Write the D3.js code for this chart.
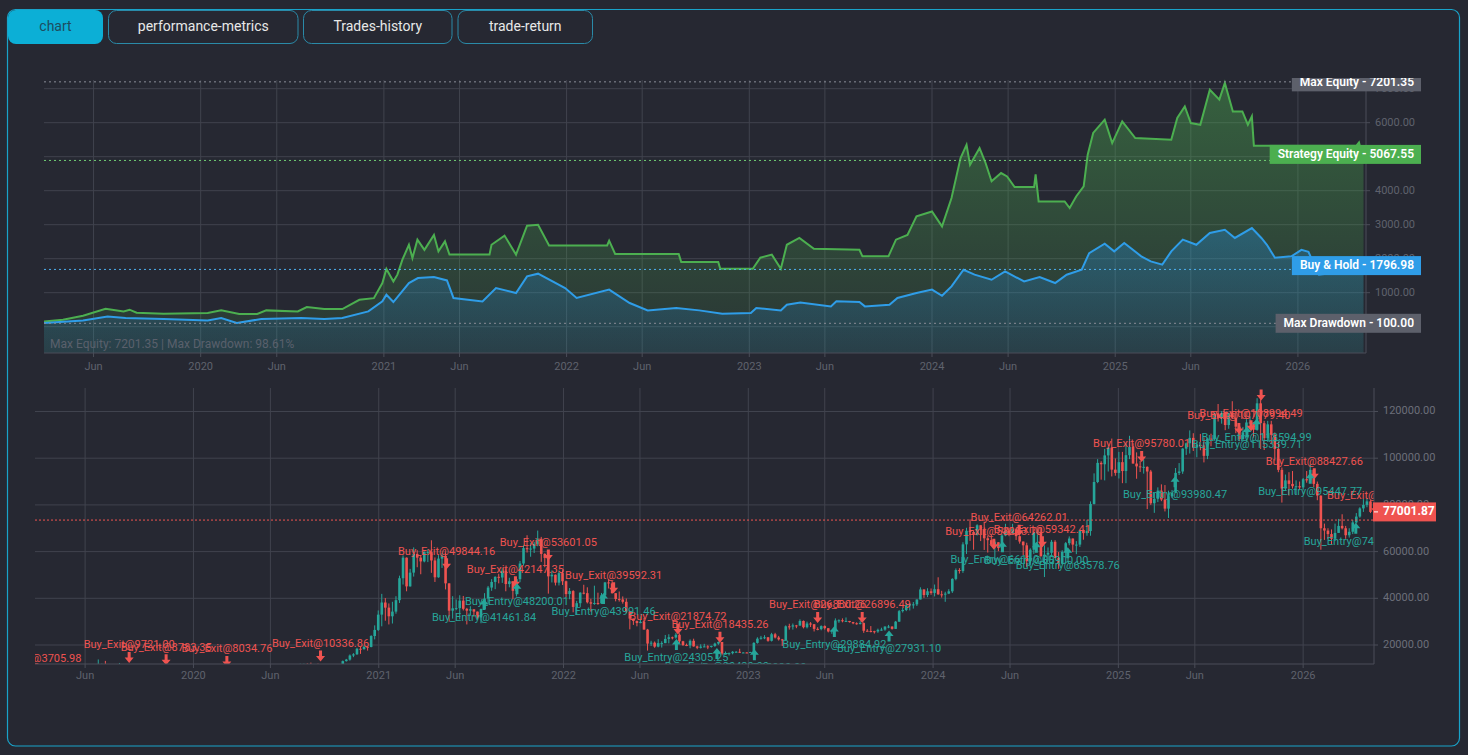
<!DOCTYPE html>
<html>
<head>
<meta charset="utf-8">
<script src="https://cdn.jsdelivr.net/npm/d3@7"></script>
<style>
  body { margin: 0; background: #262832; }
  svg { display: block; font-family: Roboto, "Noto Sans", sans-serif; }
</style>
</head>
<body>
<svg id="chart" width="1468" height="755"></svg>
<script>
// ---------------- data ----------------
const tabNames = ["chart", "performance-metrics", "Trades-history", "trade-return"];

// weekly BTC candles, prices in thousand USD; open = previous close
const firstOpen = 3.67;
const firstMonday = ["2019-02-18", "2020-01-06", "2021-01-04", "2022-01-03", "2023-01-02", "2024-01-01", "2025-01-06", "2026-01-05"];

const close2019 = [3.86,3.86,3.92,4.02,3.99,4.10,5.05,5.07,5.28,5.20,6.20,7.25,8.00,8.75,8.55,8.00,8.95,10.8,10.8,11.45,10.2,10.6,9.5,11.0,11.4,10.3,10.15,10.3,10.4,10.35,9.95,8.05,8.2,8.3,8.2,9.2,9.2,8.75,8.5,7.1,7.4,7.5,7.1,7.3,7.3,8.0];
const high2019  = [4.2,3.9,3.95,4.05,4.1,4.15,5.3,5.45,5.35,5.6,6.4,7.5,8.35,8.95,9.1,8.7,9.35,11.2,13.8,12.0,13.2,11.0,10.6,11.1,12.3,11.5,10.95,10.6,10.9,10.45,10.3,10.0,8.6,8.7,8.4,10.4,9.95,9.5,9.0,8.4,7.8,7.75,7.4,7.5,7.6,8.1];
const low2019   = [3.65,3.75,3.7,3.85,3.95,3.9,4.1,4.95,5.0,5.0,5.2,6.1,6.6,7.5,8.0,7.45,7.8,8.95,10.3,9.7,10.1,9.1,9.2,9.4,11.0,9.5,9.9,9.4,9.8,9.9,9.6,7.8,7.9,7.9,7.9,7.3,8.9,8.6,8.4,6.8,6.5,7.1,7.0,6.45,7.1,6.9];

const close2020 = [8.7,8.7,8.6,9.3,10.0,10.0,9.9,8.55,8.0,5.35,5.85,5.9,6.85,6.85,7.15,7.7,8.9,8.75,9.7,8.9,9.65,9.75,9.4,9.3,9.15,9.3,9.25,9.2,9.95,11.1,11.9,11.85,11.7,11.7,10.3,10.7,10.9,10.75,10.65,11.45,11.4,13.1,13.75,15.5,16.0,18.4,18.2,19.25,19.15,23.85,26.45,33.0];
const high2020  = [8.9,9.2,8.9,9.6,10.2,10.5,10.2,10.0,9.2,8.2,6.9,6.95,7.45,7.45,7.3,7.75,9.45,10.0,9.9,9.95,9.7,10.4,9.95,9.6,9.8,9.35,9.45,9.3,10.1,12.0,11.95,12.1,12.45,11.8,12.05,10.75,11.1,10.95,10.95,11.5,11.7,13.35,14.05,15.95,16.5,18.8,19.4,19.9,19.4,24.2,28.4,34.8];
const low2020   = [7.7,8.6,8.3,8.55,9.2,9.6,9.45,8.4,7.7,3.85,4.45,5.7,5.85,6.65,6.6,6.8,7.65,8.7,8.2,8.65,8.65,9.25,9.25,9.2,8.9,8.9,9.1,9.05,9.15,9.95,11.0,11.15,11.55,11.1,9.9,9.9,10.6,10.2,10.4,10.55,11.2,11.4,12.9,13.3,14.8,15.8,16.2,18.0,17.6,19.0,22.4,26.0];

const close2021 = [38.2,36.0,32.3,34.3,39.2,48.6,57.4,45.1,51.0,59.0,57.4,55.8,59.8,59.8,56.2,49.0,57.0,58.2,46.4,34.7,35.7,35.8,39.0,35.5,34.7,35.3,34.3,31.8,35.4,39.9,44.6,47.0,49.2,48.9,51.8,46.1,47.3,43.2,48.2,54.9,61.5,61.0,61.3,63.3,65.5,59.0,57.3,49.4,50.1,46.7,50.8,47.3];
const high2021  = [41.9,40.1,37.8,38.5,40.9,49.7,58.35,57.5,52.6,61.8,60.6,58.4,60.1,61.0,64.85,57.5,58.5,59.5,59.6,45.8,40.9,39.5,41.3,41.0,35.9,36.6,35.2,34.0,35.6,42.2,45.3,48.2,49.4,50.5,52.9,52.9,48.8,47.1,49.0,56.0,62.9,67.0,63.7,64.2,69.0,66.3,59.3,59.0,51.9,50.2,51.9,52.0];
const low2021   = [28.0,30.4,28.8,29.2,33.4,38.0,45.9,43.0,45.0,49.3,53.3,50.3,55.4,55.5,50.9,47.0,48.8,53.0,43.8,30.0,31.3,34.9,31.0,34.8,28.8,32.7,32.1,31.1,29.3,35.2,37.6,43.2,43.9,46.4,46.6,43.0,44.7,39.6,40.8,46.9,54.0,59.6,57.8,59.4,62.3,55.6,53.3,42.0,46.8,45.5,45.5,45.7];

const close2022 = [41.8,43.1,36.3,37.9,42.4,42.2,38.3,37.7,38.0,37.8,41.3,46.8,46.4,42.2,39.7,39.5,38.5,34.3,31.3,30.3,29.4,29.9,26.6,20.6,21.0,19.3,20.8,20.8,22.6,23.3,23.2,24.4,21.6,20.0,19.8,21.8,19.4,18.8,19.3,19.4,19.2,19.6,20.6,21.3,16.3,16.3,16.5,17.1,17.1,16.8,16.8,16.6];
const high2022  = [47.6,44.4,43.5,38.9,42.6,45.8,44.7,39.8,45.4,42.4,42.3,47.0,48.2,47.4,41.5,42.9,40.8,39.9,34.2,31.3,30.5,32.2,31.6,26.9,21.8,21.5,22.5,21.6,24.3,24.6,23.6,25.2,25.0,21.8,20.6,22.4,22.7,19.7,20.3,20.5,19.9,19.7,21.0,21.5,21.0,17.2,16.8,17.4,17.4,18.4,16.9,16.9];
const low2022   = [40.5,39.6,34.0,32.9,36.3,41.7,37.8,34.3,37.2,37.2,37.6,40.9,44.2,42.0,38.7,38.6,37.7,33.7,26.7,28.6,28.0,29.3,26.6,17.6,19.6,18.8,19.0,18.9,20.8,20.7,22.4,22.7,20.8,19.6,19.5,18.6,19.3,18.2,18.5,19.1,18.2,18.9,19.2,20.1,15.6,16.0,15.5,16.0,16.9,16.6,16.6,16.5];

const close2023 = [17.0,20.9,22.7,23.1,23.3,21.8,24.6,23.2,22.4,22.1,28.0,27.9,28.4,28.3,30.3,27.6,29.2,28.9,26.9,26.8,28.1,27.2,25.8,26.3,30.5,30.6,30.2,30.3,29.8,29.3,29.0,29.4,26.1,26.0,25.9,25.8,26.5,26.6,27.9,27.9,26.9,30.0,34.5,35.0,37.0,37.4,37.4,39.5,43.8,41.4,43.0,42.3];
const high2023  = [17.1,21.2,23.3,23.9,24.2,23.4,25.2,25.2,23.9,22.6,28.4,29.1,29.2,28.6,31.0,30.5,30.0,29.8,28.2,27.6,28.4,28.4,26.8,26.4,31.4,31.0,31.4,31.8,30.3,29.9,29.7,30.2,29.7,26.8,28.1,26.1,27.0,27.4,28.0,28.6,28.0,30.3,35.0,35.9,37.9,37.9,38.4,39.5,44.7,43.5,44.3,44.2];
const low2023   = [16.6,17.1,20.6,22.3,22.5,21.4,21.5,22.8,21.9,19.6,21.9,26.6,26.6,27.2,28.3,27.1,27.1,27.7,25.8,26.3,26.3,26.6,25.4,24.8,26.3,29.5,29.7,30.1,29.6,28.9,28.7,28.8,25.2,25.8,25.4,24.9,25.2,26.1,26.1,27.2,26.6,26.9,29.9,33.9,34.5,34.8,35.6,36.7,39.6,40.2,40.5,41.5];

const close2024 = [43.9,41.7,41.6,42.0,43.0,48.3,52.1,51.7,63.1,68.9,68.4,67.2,71.3,69.4,65.7,64.9,63.1,64.0,61.5,66.9,69.0,67.8,69.6,66.6,64.3,62.7,55.9,60.8,68.2,68.3,58.1,58.7,59.5,64.2,57.3,54.8,59.9,63.6,65.6,63.0,63.0,69.0,67.9,68.8,80.4,89.8,98.0,97.4,101.2,104.5,95.1,93.7,98.3];
const high2024  = [45.9,49.0,43.2,42.8,43.9,48.6,52.8,52.9,64.0,70.2,73.8,68.9,71.7,71.3,72.8,66.9,67.2,64.7,64.0,67.5,71.9,69.5,71.9,70.2,66.9,63.5,63.8,61.4,68.3,69.4,70.0,62.7,61.8,65.0,64.9,59.8,60.6,64.1,66.5,65.6,64.5,69.4,69.5,73.6,81.5,93.5,99.6,98.7,104.0,105.1,108.4,99.9,102.7];
const low2024   = [40.8,41.5,40.3,38.5,41.8,42.3,47.7,50.6,50.9,59.0,64.6,60.8,66.9,64.5,60.7,59.6,62.4,56.6,60.2,60.6,66.6,66.6,67.5,65.0,63.4,58.5,53.5,54.3,59.0,63.4,57.6,49.1,56.2,57.8,57.2,52.6,54.6,57.6,62.7,59.8,58.9,62.0,65.1,66.8,66.8,80.2,89.3,90.8,90.5,94.3,92.2,92.5,91.3];

const close2025 = [94.5,101.3,104.8,97.7,96.5,96.1,96.3,94.3,80.7,82.6,86.1,82.3,78.4,83.7,85.2,93.7,94.3,104.1,106.4,108.7,104.6,105.7,105.5,101.0,108.4,108.2,119.1,117.3,119.4,114.2,119.3,117.4,113.5,108.2,111.1,115.3,115.3,112.2,123.5,115.0,108.6,114.5,110.0,104.0,95.0,87.0,90.5,89.0,88.0,88.0,87.5,91.0];
const high2025  = [102.7,106.3,109.6,106.4,102.5,98.8,99.5,96.5,95.0,85.3,87.5,88.8,88.5,86.1,86.4,95.8,97.9,104.3,106.7,111.9,110.7,106.8,110.4,108.9,108.5,110.5,119.5,123.2,120.2,119.8,119.3,124.4,117.6,113.4,113.4,116.7,117.9,115.0,125.7,126.2,116.0,116.0,116.0,111.0,107.0,96.0,93.0,94.0,94.5,90.5,90.0,91.5];
const low2025   = [89.3,89.3,99.6,97.8,91.2,94.1,93.4,78.2,80.0,76.6,81.2,81.6,77.2,74.4,83.0,85.1,92.8,93.3,101.4,102.0,103.1,100.4,103.4,98.2,99.6,105.1,107.5,115.7,114.8,112.0,112.6,116.8,110.7,107.3,107.3,110.6,114.8,108.6,111.8,104.0,103.5,107.0,106.0,99.0,94.0,81.0,86.0,84.0,87.0,84.5,86.5,86.5];

const close2026 = [90.5,95.0,89.0,84.0,70.0,69.0,67.5,65.5,68.0,71.0,70.0,67.0,68.5,72.5,75.0,78.5,80.0,81.5,77.0];
const high2026  = [94.5,97.5,95.5,90.0,84.0,72.0,70.0,69.5,72.0,74.0,76.0,71.0,70.0,73.5,76.5,79.0,82.5,83.0,82.0];
const low2026   = [89.5,90.0,87.5,82.0,60.8,65.0,65.5,63.0,64.5,68.0,69.5,65.5,66.0,67.5,72.0,74.5,77.0,79.0,76.5];

const lastPrice = 77001.87;
const priceLineLevel = 73500;

// trade markers
const exitDates  = ["2019-02-24","2019-08-27","2019-11-08","2020-03-07","2020-09-08","2021-05-15","2021-09-28","2021-12-02","2022-04-10","2022-08-15","2022-11-06","2023-05-18","2023-08-14","2024-04-30","2024-06-19","2024-08-04","2025-02-16","2025-08-27","2025-09-20","2025-10-10","2026-01-23","2026-05-24"];
const exitPrices = [3705.98,9721.00,8783.35,8034.76,10336.86,49844.16,42147.35,53601.05,39592.31,21874.72,18435.26,26880.26,26896.49,58253.70,64262.01,59342.41,95780.01,107779.40,108994.49,122140.00,88427.66,73650.00];
const entryDates  = ["2021-07-28","2021-10-01","2022-03-21","2022-08-12","2022-10-31","2023-01-13","2023-06-20","2023-10-06","2024-05-17","2024-07-23","2024-09-23","2025-04-23","2025-09-12","2025-10-01","2026-01-15","2026-04-15"];
const entryPrices = [41461.84,48200.01,43991.46,24305.25,20420.00,19930.00,29884.92,27931.10,66110.00,65900.00,63578.76,93980.47,115339.71,118594.99,95447.77,74120.00];

// equity curves
const strategyEquity = [["2019-02-21",155],["2019-04-01",205],["2019-05-11",324],["2019-06-25",530],["2019-07-31",450],["2019-08-12",500],["2019-08-26",410],["2019-10-19",380],["2020-01-15",400],["2020-02-11",480],["2020-03-18",373],["2020-04-23",373],["2020-05-11",480],["2020-07-13",450],["2020-07-31",580],["2020-09-04",520],["2020-10-10",520],["2020-11-13",790],["2020-12-12",840],["2020-12-29",1285],["2021-01-06",1700],["2021-01-20",1330],["2021-01-28",1530],["2021-02-07",1970],["2021-02-20",2410],["2021-02-27",2020],["2021-03-09",2560],["2021-03-23",2260],["2021-04-11",2700],["2021-04-20",2215],["2021-05-03",2510],["2021-05-12",2120],["2021-07-31",2120],["2021-08-04",2410],["2021-08-30",2680],["2021-09-22",2120],["2021-10-14",2970],["2021-11-05",3000],["2021-11-27",2390],["2022-03-23",2390],["2022-03-27",2530],["2022-04-08",2140],["2022-08-13",2140],["2022-08-18",1900],["2022-10-31",1900],["2022-11-04",1706],["2023-01-08",1706],["2023-01-23",2030],["2023-02-15",2120],["2023-03-05",1706],["2023-03-17",2410],["2023-04-11",2610],["2023-05-10",2290],["2023-08-09",2260],["2023-08-15",2070],["2023-10-06",2070],["2023-10-21",2560],["2023-11-13",2700],["2023-12-01",3245],["2024-01-01",3390],["2024-01-21",2950],["2024-02-09",3785],["2024-02-27",4960],["2024-03-10",5350],["2024-03-17",4760],["2024-04-05",5255],["2024-04-17",4815],["2024-04-29",4275],["2024-05-18",4520],["2024-05-30",4420],["2024-06-14",4110],["2024-07-23",4110],["2024-07-26",4480],["2024-08-01",3685],["2024-09-22",3685],["2024-10-02",3490],["2024-10-15",3830],["2024-10-30",4125],["2024-11-07",5060],["2024-11-18",5700],["2024-12-11",6090],["2024-12-26",5400],["2025-01-15",6040],["2025-02-10",5550],["2025-04-23",5500],["2025-05-05",6140],["2025-05-20",6480],["2025-06-01",5990],["2025-06-20",5940],["2025-07-09",6970],["2025-07-28",6680],["2025-08-08",7170],["2025-08-24",6330],["2025-09-12",6330],["2025-09-23",5940],["2025-10-01",6185],["2025-10-05",5325],["2026-04-28",5325],["2026-05-03",5420],["2026-05-12",4890]];
const buyHoldEquity = [["2019-02-21",105],["2019-05-11",185],["2019-06-29",303],["2019-08-04",255],["2019-10-19",226],["2020-01-15",185],["2020-02-11",255],["2020-03-13",108],["2020-05-01",226],["2020-07-20",255],["2020-09-04",226],["2020-10-10",255],["2020-12-01",450],["2020-12-29",745],["2021-01-06",940],["2021-01-20",725],["2021-02-20",1285],["2021-03-10",1430],["2021-04-11",1460],["2021-05-07",1360],["2021-05-20",845],["2021-07-17",745],["2021-08-13",1135],["2021-09-22",990],["2021-10-14",1480],["2021-11-05",1560],["2021-12-29",1135],["2022-01-21",845],["2022-03-27",1090],["2022-05-07",697],["2022-06-12",480],["2022-08-08",550],["2022-09-23",480],["2022-11-08",380],["2023-01-04",400],["2023-01-15",550],["2023-03-05",480],["2023-03-17",647],["2023-04-13",715],["2023-06-13",597],["2023-06-24",745],["2023-08-09",725],["2023-08-20",597],["2023-10-08",647],["2023-10-24",845],["2023-12-01",990],["2024-01-01",1090],["2024-01-21",910],["2024-02-09",1185],["2024-03-04",1675],["2024-03-26",1530],["2024-04-29",1380],["2024-05-26",1625],["2024-07-03",1330],["2024-08-03",1460],["2024-09-03",1285],["2024-09-26",1530],["2024-10-26",1675],["2024-11-10",2165],["2024-12-11",2440],["2024-12-30",2215],["2025-01-19",2460],["2025-02-22",2070],["2025-03-13",1920],["2025-04-05",1825],["2025-04-23",2215],["2025-05-16",2560],["2025-06-12",2410],["2025-07-09",2755],["2025-08-08",2850],["2025-08-28",2610],["2025-10-01",2900],["2025-10-20",2610],["2025-10-31",2410],["2025-11-16",2030],["2025-12-19",2070],["2026-01-08",2260],["2026-01-22",2200],["2026-02-12",1530],["2026-03-24",1600],["2026-05-12",1685]];

const paneLabelNames  = ["Max Equity", "Strategy Equity", "Buy & Hold", "Max Drawdown"];
const paneLabelValues = [7201.35, 5067.55, 1796.98, 100.00];
const paneLineValues  = [7201.35, 4890, 1685, 100];
const statsText = "Max Equity: 7201.35 | Max Drawdown: 98.61%";

// ---------------- setup ----------------
const svg = d3.select("#chart");
const parse = d3.timeParse("%Y-%m-%d");
const bg = "#262832";
const upColor = "#26a69a", downColor = "#ef5350";
const gridColor = "#40434e";

const t0 = new Date(2019, 1, 22), t1 = new Date(2026, 4, 17);
const paneA = { x0: 44, x1: 1366, y0: 80, y1: 353 };
const paneB = { x0: 35, x1: 1374, y0: 388, y1: 664 };

const xTop = d3.scaleTime().domain([t0, t1]).range([paneA.x0, paneA.x1]);
const xBot = d3.scaleTime().domain([t0, t1]).range([paneB.x0, 1372]);
const yTop = d3.scaleLinear().domain([0, 7000]).range([326.7, 88.7]);
const yBot = d3.scaleLinear().domain([0, 120000]).range([691.7, 411.5]);

const defs = svg.append("defs");
defs.append("clipPath").attr("id", "clipTop").append("rect")
  .attr("x", paneA.x0).attr("y", 77).attr("width", paneA.x1 - paneA.x0).attr("height", paneA.y1 - 77);
defs.append("clipPath").attr("id", "clipBot").append("rect")
  .attr("x", paneB.x0).attr("y", paneB.y0).attr("width", paneB.x1 - paneB.x0).attr("height", paneB.y1 - paneB.y0);
defs.append("clipPath").attr("id", "clipLabels").append("rect")
  .attr("x", 0).attr("y", 78).attr("width", 1468).attr("height", 300);

function grad(id, color, a0, a1) {
  const g = defs.append("linearGradient").attr("id", id).attr("x1", 0).attr("y1", 0).attr("x2", 0).attr("y2", 1);
  g.append("stop").attr("offset", 0).attr("stop-color", color).attr("stop-opacity", a0);
  g.append("stop").attr("offset", 1).attr("stop-color", color).attr("stop-opacity", a1);
}
grad("gGreen", "#4caf50", 0.42, 0.10);
grad("gBlue", "#2196f3", 0.30, 0.10);

svg.append("rect").attr("width", 1468).attr("height", 755).attr("fill", bg);

// panel frame + tabs
svg.append("rect").attr("x", 7.5).attr("y", 9.5).attr("width", 1452).attr("height", 736.5)
  .attr("rx", 8).attr("fill", "none").attr("stroke", "#19a3c9").attr("stroke-width", 1.2);

const tabX = [8, 108, 303, 457.5], tabW = [95, 190.5, 149.5, 135.5];
tabNames.forEach((name, i) => {
  const active = i === 0;
  svg.append("rect").attr("x", tabX[i] + (active ? 0 : 0.5)).attr("y", active ? 10 : 10.5)
    .attr("width", tabW[i] - (active ? 0 : 1)).attr("height", active ? 34 : 33).attr("rx", 8)
    .attr("fill", active ? "#0cafd6" : bg).attr("stroke", active ? "none" : "#2a8aa8");
  svg.append("text").attr("x", tabX[i] + tabW[i] / 2).attr("y", 27.5)
    .attr("text-anchor", "middle").attr("dominant-baseline", "middle")
    .attr("font-size", 14).attr("fill", active ? "#1d4d5f" : "#e8e8e8").text(name);
});

// month ticks shared by both panes
const timeTicks = d3.timeMonth.range(t0, t1).filter(d => d.getMonth() === 0 || d.getMonth() === 5);
const tickLabel = d => d.getMonth() === 0 ? d3.timeFormat("%Y")(d) : "Jun";

// ---------------- top pane ----------------
const gTop = svg.append("g");
gTop.selectAll("line.vg").data(timeTicks).join("line")
  .attr("x1", d => xTop(d)).attr("x2", d => xTop(d)).attr("y1", paneA.y0).attr("y2", paneA.y1)
  .attr("stroke", gridColor);
gTop.selectAll("line.hg").data(d3.range(0, 7001, 1000)).join("line")
  .attr("x1", paneA.x0).attr("x2", paneA.x1).attr("y1", d => yTop(d)).attr("y2", d => yTop(d))
  .attr("stroke", gridColor);

const plotTop = gTop.append("g").attr("clip-path", "url(#clipTop)");
const stratPts = strategyEquity.map(d => [parse(d[0]), d[1]]);
const holdPts = buyHoldEquity.map(d => [parse(d[0]), d[1]]);
const area = d3.area().x(d => xTop(d[0])).y0(paneA.y1).y1(d => yTop(d[1]));
const line = d3.line().x(d => xTop(d[0])).y(d => yTop(d[1]));

plotTop.append("path").attr("d", area(stratPts)).attr("fill", "url(#gGreen)");
plotTop.append("path").attr("d", area(holdPts)).attr("fill", "url(#gBlue)");
plotTop.append("path").attr("d", line(stratPts)).attr("fill", "none").attr("stroke", "#4caf50").attr("stroke-width", 2);
plotTop.append("path").attr("d", line(holdPts)).attr("fill", "none").attr("stroke", "#2f9de8").attr("stroke-width", 2);

const labelColors = ["#5d606b", "#4caf50", "#2f9de8", "#5d606b"];
const dotColors = ["#8a8d97", "#6fcf73", "#4fb0f0", "#8a8d97"];
paneLineValues.forEach((v, i) => {
  plotTop.append("line").attr("x1", paneA.x0).attr("x2", paneA.x1).attr("y1", yTop(v)).attr("y2", yTop(v))
    .attr("stroke", dotColors[i]).attr("stroke-dasharray", "2,3").attr("stroke-width", 1);
});

plotTop.append("text").attr("x", 50).attr("y", 345).attr("dominant-baseline", "middle")
  .attr("font-size", 12).attr("fill", "#5a606c").text(statsText);

// axes borders
gTop.append("line").attr("x1", paneA.x0).attr("x2", paneA.x1).attr("y1", paneA.y1).attr("y2", paneA.y1).attr("stroke", "#4a4d58");
gTop.append("line").attr("x1", paneA.x1).attr("x2", paneA.x1).attr("y1", paneA.y0).attr("y2", paneA.y1).attr("stroke", "#4a4d58");

// y labels
d3.range(0, 7001, 1000).forEach(v => {
  gTop.append("line").attr("x1", paneA.x1).attr("x2", paneA.x1 + 4).attr("y1", yTop(v)).attr("y2", yTop(v)).attr("stroke", "#4a4d58");
  gTop.append("text").attr("x", 1375).attr("y", yTop(v)).attr("dominant-baseline", "middle")
    .attr("font-size", 11).attr("fill", "#5f626d").text(d3.format(".2f")(v));
});
timeTicks.forEach(d => {
  gTop.append("line").attr("x1", xTop(d)).attr("x2", xTop(d)).attr("y1", paneA.y1).attr("y2", paneA.y1 + 4).attr("stroke", "#4a4d58");
  gTop.append("text").attr("x", xTop(d)).attr("y", 367).attr("text-anchor", "middle").attr("dominant-baseline", "middle")
    .attr("font-size", 11).attr("fill", "#5f626d").text(tickLabel(d));
});

// value labels on the right
const lblG = svg.append("g").attr("clip-path", "url(#clipLabels)");
paneLabelNames.forEach((name, i) => {
  const y = yTop(paneLabelValues[i]);
  const t = lblG.append("text").attr("x", 1414).attr("y", y + 0.5).attr("text-anchor", "end")
    .attr("dominant-baseline", "middle").attr("font-size", 12).attr("font-weight", 600)
    .attr("fill", "#ffffff").text(name + "  -  " + d3.format(".2f")(paneLabelValues[i]));
  const w = t.node().getComputedTextLength();
  lblG.insert("rect", "text").attr("x", 1421 - w - 15).attr("y", y - 9.5).attr("width", w + 15).attr("height", 19)
    .attr("fill", labelColors[i]);
});

// ---------------- bottom pane ----------------
const gBot = svg.append("g");
gBot.selectAll("line.vg").data(timeTicks).join("line")
  .attr("x1", d => xBot(d)).attr("x2", d => xBot(d)).attr("y1", paneB.y0).attr("y2", paneB.y1)
  .attr("stroke", gridColor);
const priceTicks = d3.range(20000, 120001, 20000);
gBot.selectAll("line.hg").data(priceTicks).join("line")
  .attr("x1", paneB.x0).attr("x2", paneB.x1).attr("y1", d => yBot(d)).attr("y2", d => yBot(d))
  .attr("stroke", gridColor);

const closes = [close2019, close2020, close2021, close2022, close2023, close2024, close2025, close2026];
const highs = [high2019, high2020, high2021, high2022, high2023, high2024, high2025, high2026];
const lows = [low2019, low2020, low2021, low2022, low2023, low2024, low2025, low2026];
const candles = [];
let prev = firstOpen;
closes.forEach((arr, yi) => {
  const start = parse(firstMonday[yi]);
  arr.forEach((c, i) => {
    const o = prev;
    candles.push({
      date: d3.timeHour.offset(d3.timeDay.offset(start, 7 * i), 72),
      o: o * 1000, c: c * 1000,
      h: Math.max(highs[yi][i], o, c) * 1000,
      l: Math.min(lows[yi][i], o, c) * 1000
    });
    prev = c;
  });
});

const plotBot = gBot.append("g").attr("clip-path", "url(#clipBot)");
const bw = 2.6;
const cg = plotBot.selectAll("g.candle").data(candles).join("g");
cg.append("line")
  .attr("x1", d => xBot(d.date)).attr("x2", d => xBot(d.date))
  .attr("y1", d => yBot(d.h)).attr("y2", d => yBot(d.l))
  .attr("stroke", d => d.c >= d.o ? upColor : downColor).attr("stroke-width", 1);
cg.append("rect")
  .attr("x", d => xBot(d.date) - bw / 2).attr("width", bw)
  .attr("y", d => yBot(Math.max(d.o, d.c)))
  .attr("height", d => Math.max(1, Math.abs(yBot(d.o) - yBot(d.c))))
  .attr("fill", d => d.c >= d.o ? upColor : downColor);

// price line
plotBot.append("line").attr("x1", paneB.x0).attr("x2", paneB.x1).attr("y1", yBot(priceLineLevel)).attr("y2", yBot(priceLineLevel))
  .attr("stroke", downColor).attr("stroke-dasharray", "2,2").attr("stroke-width", 1);

// markers
function downArrow(cx, cy) {
  return `M${cx - 1.5},${cy - 5.5}H${cx + 1.5}V${cy}H${cx + 4.5}L${cx},${cy + 5.5}L${cx - 4.5},${cy}H${cx - 1.5}Z`;
}
function upArrow(cx, cy) {
  return `M${cx - 1.5},${cy + 5.5}H${cx + 1.5}V${cy}H${cx + 4.5}L${cx},${cy - 5.5}L${cx - 4.5},${cy}H${cx - 1.5}Z`;
}
exitDates.forEach((d, i) => {
  const x = xBot(parse(d)), y = yBot(exitPrices[i]);
  plotBot.append("path").attr("d", downArrow(x, y - 11.5)).attr("fill", downColor);
  plotBot.append("text").attr("x", x).attr("y", y - 23.5).attr("text-anchor", "middle").attr("dominant-baseline", "middle")
    .attr("font-size", 11).attr("fill", downColor).text("Buy_Exit@" + d3.format(".2f")(exitPrices[i]));
});
entryDates.forEach((d, i) => {
  const x = xBot(parse(d)), y = yBot(entryPrices[i]);
  plotBot.append("path").attr("d", upArrow(x, y + 9.5)).attr("fill", upColor);
  plotBot.append("text").attr("x", x).attr("y", y + 23).attr("text-anchor", "middle").attr("dominant-baseline", "middle")
    .attr("font-size", 11).attr("fill", upColor).text("Buy_Entry@" + d3.format(".2f")(entryPrices[i]));
});

gBot.append("line").attr("x1", paneB.x0).attr("x2", paneB.x1).attr("y1", paneB.y1).attr("y2", paneB.y1).attr("stroke", "#4a4d58");
gBot.append("line").attr("x1", paneB.x1).attr("x2", paneB.x1).attr("y1", paneB.y0).attr("y2", paneB.y1).attr("stroke", "#4a4d58");

priceTicks.forEach(v => {
  gBot.append("line").attr("x1", paneB.x1).attr("x2", paneB.x1 + 4).attr("y1", yBot(v)).attr("y2", yBot(v)).attr("stroke", "#4a4d58");
  gBot.append("text").attr("x", 1383).attr("y", yBot(v)).attr("dominant-baseline", "middle")
    .attr("font-size", 11).attr("fill", "#6c6f7a").text(d3.format(".2f")(v));
});
timeTicks.forEach(d => {
  gBot.append("line").attr("x1", xBot(d)).attr("x2", xBot(d)).attr("y1", paneB.y1).attr("y2", paneB.y1 + 4).attr("stroke", "#4a4d58");
  gBot.append("text").attr("x", xBot(d)).attr("y", 676).attr("text-anchor", "middle").attr("dominant-baseline", "middle")
    .attr("font-size", 11).attr("fill", "#5f626d").text(tickLabel(d));
});

// last price label
const ly = yBot(lastPrice);
gBot.append("rect").attr("x", 1373).attr("y", ly - 9.5).attr("width", 63).attr("height", 19).attr("fill", downColor);
gBot.append("line").attr("x1", 1374).attr("x2", 1378).attr("y1", ly).attr("y2", ly).attr("stroke", "#ffffff");
gBot.append("text").attr("x", 1383).attr("y", ly).attr("dominant-baseline", "middle")
  .attr("font-size", 12).attr("font-weight", 700).attr("fill", "#ffffff").text(d3.format(".2f")(lastPrice));
</script>
</body>
</html>
